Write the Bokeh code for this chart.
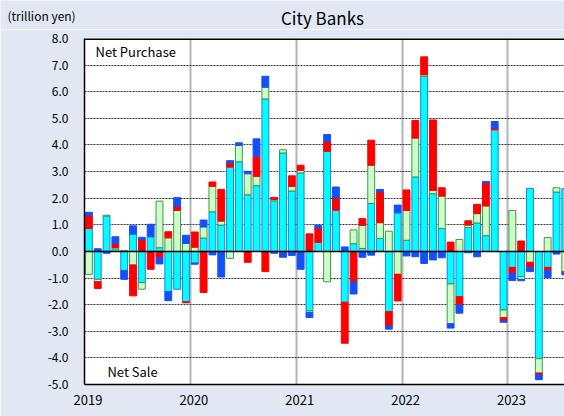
import numpy as np
from bokeh.plotting import figure
from bokeh.layouts import column
from bokeh.models import (ColumnDataSource, FixedTicker, NumeralTickFormatter,
                          Span, Label)
from bokeh.embed import file_html
from bokeh.resources import INLINE

# ---- data (trillion yen), monthly from Jan 2019 ----
years = ["2019", "2020", "2021", "2022", "2023"]

cyan_vals = [0.86, -1.05, 1.33, 0.10, -0.72, 0.65, -1.17, 0.55, 0.14, -1.51, -1.42, -1.89,
             -0.44, 0.50, 1.49, 0.99, 3.17, 3.37, 2.13, 2.47, 5.73, 1.90, 3.70, 2.27,
             2.95, -2.23, 0.34, 3.76, 1.55, -1.91, 0.29, 0.11, 1.80, 0.49, -2.26, 1.45,
             0.42, 2.80, 6.58, 2.17, 0.86, -1.22, -1.70, 0.90, 1.07, 0.59, 4.57, -2.20,
             -0.60, -0.95, 2.37, -4.03, -0.60, 2.23, 2.36]
green_vals = [-0.86, -0.09, 0.03, 0.05, 0.03, -0.51, -0.25, 0.00, 1.75, 0.51, 1.54, 0.30,
              0.16, 0.42, 0.96, 0.15, -0.26, 0.61, 0.79, 0.35, 0.44, 0.05, 0.12, 0.17,
              0.10, -0.06, 0.00, -1.14, 0.00, 0.00, 0.52, 0.87, 1.44, 0.59, 0.76, -0.86,
              1.12, 1.46, 0.06, 0.12, 1.22, -1.50, 0.45, 0.09, 0.35, 1.12, 0.00, -0.29,
              1.54, -0.10, -0.41, -0.54, 0.52, 0.16, -0.76]
red_vals = [0.50, -0.25, 0.00, 0.15, 0.00, -1.16, 0.45, -0.67, -0.24, 0.23, 0.16, -0.04,
            0.57, -1.54, 0.16, 1.19, 0.16, 0.00, -0.41, 0.75, -0.76, 0.08, -0.05, 0.40,
            0.19, 0.66, 0.54, 0.37, 0.46, -1.54, -1.15, 0.25, 0.94, 1.16, -0.54, -1.00,
            0.77, 0.66, 0.67, 2.65, 0.31, 0.35, -0.31, 0.16, 0.35, 0.86, 0.07, -0.12,
            -0.22, 0.39, -0.20, -0.06, -0.12, 0.00, -0.02]
blue_vals = [0.11, 0.10, -0.07, 0.25, -0.33, 0.31, 0.08, 0.47, -0.23, -0.34, 0.32, 0.31,
             -0.04, 0.26, -0.13, -0.96, 0.08, 0.10, 0.09, 0.66, 0.41, -0.07, -0.17, -0.15,
             -0.67, -0.19, 0.10, 0.26, 0.41, 0.17, -0.45, -0.22, -0.14, 0.09, -0.12, 0.29,
             -0.17, -0.20, -0.45, -0.32, -0.24, -0.16, -0.31, -0.05, -0.20, 0.06, 0.24, -0.05,
             -0.27, -0.05, -0.15, -0.19, -0.26, -0.10, -0.10]

y_ticks = [-5, -4, -3, -2, -1, 0, 1, 2, 3, 4, 5, 6, 7, 8]

FONT = "Noto Sans CJK JP"
BG = "#e1e8f4"

# ---- header strip with title and unit ----
HEAD_H = 29
head = figure(width=564, height=HEAD_H, x_range=(0, 564), y_range=(0, HEAD_H),
              output_backend="svg", toolbar_location=None,
              x_axis_location=None, y_axis_location=None,
              min_border_left=0, min_border_right=0, min_border_top=0, min_border_bottom=0)
head.frame_align = False
head.xgrid.visible = False
head.ygrid.visible = False
head.outline_line_color = None
head.background_fill_color = BG
head.border_fill_color = BG
head.add_layout(Label(x=322, y=HEAD_H - 17, text="City Banks", text_align="center",
                      text_baseline="middle", text_font=FONT, text_font_size="17px",
                      text_color="black"))
head.add_layout(Label(x=7, y=HEAD_H - 15, text="(trillion yen)", text_align="left",
                      text_baseline="middle", text_font=FONT, text_font_size="12px",
                      text_color="black"))

# ---- main chart ----
n = len(cyan_vals)
x = np.arange(n) + 0.5

p = figure(width=564, height=416 - HEAD_H, x_range=(0, 54.41), y_range=(-5, 8),
           output_backend="svg", toolbar_location=None,
           min_border_left=84, min_border_right=0, min_border_top=38 - HEAD_H,
           min_border_bottom=32)
p.frame_align = False
p.background_fill_color = "white"
p.border_fill_color = BG
p.outline_line_color = None

p.ygrid.ticker = FixedTicker(ticks=y_ticks)
p.ygrid.grid_line_color = "#333333"
p.ygrid.grid_line_dash = "2 1"
p.ygrid.grid_line_width = 1
p.xgrid.ticker = FixedTicker(ticks=[12 * i for i in range(len(years))])
p.xgrid.grid_line_color = "#b4b4b4"
p.xgrid.grid_line_width = 2

series = [
    (cyan_vals, "#00ffff", "#2b7de0"),
    (green_vals, "#ccffcc", "#3c9c3c"),
    (red_vals, "#ff0000", "#ff0000"),
    (blue_vals, "#1450fa", "#1450fa"),
]
pos_base = np.zeros(n)
neg_base = np.zeros(n)
for vals, fill, line in series:
    v = np.array(vals, dtype=float)
    bottom = np.where(v >= 0, pos_base, neg_base)
    top = bottom + v
    pos_base = np.where(v >= 0, top, pos_base)
    neg_base = np.where(v < 0, top, neg_base)
    m = v != 0
    src = ColumnDataSource(dict(x=x[m], bottom=bottom[m], top=top[m]))
    p.vbar(x="x", bottom="bottom", top="top", width=0.78, source=src,
           fill_color=fill, line_color=line, line_width=1)

p.add_layout(Span(location=0, dimension="width", line_color="black", line_width=1.5))
p.add_layout(Span(location=8, dimension="width", line_color="black", line_width=3))

yax = p.yaxis[0]
yax.ticker = FixedTicker(ticks=y_ticks)
yax.formatter = NumeralTickFormatter(format="0.0")
yax.major_tick_line_color = None
yax.minor_tick_line_color = None
yax.major_tick_out = 0
yax.minor_tick_out = 0
yax.major_label_standoff = 16
yax.major_label_text_font = FONT
yax.major_label_text_font_size = "12px"
yax.major_label_text_color = "black"
yax.axis_line_color = "black"
yax.axis_line_width = 1.5

xax = p.xaxis[0]
tick_pos = [12 * i + 0.4 for i in range(len(years))]
xax.ticker = FixedTicker(ticks=tick_pos)
xax.major_label_overrides = {t: y for t, y in zip(tick_pos, years)}
xax.major_tick_line_color = None
xax.minor_tick_line_color = None
xax.major_tick_out = 0
xax.minor_tick_out = 0
xax.major_label_standoff = 10
xax.major_label_text_font = FONT
xax.major_label_text_font_size = "13px"
xax.major_label_text_color = "black"
xax.axis_line_color = "black"
xax.axis_line_width = 1.5

p.add_layout(Label(x=1.25, y=7.51, text="Net Purchase", text_align="left", text_baseline="middle",
                   text_font=FONT, text_font_size="13px", text_color="black"))
p.add_layout(Label(x=2.6, y=-4.52, text="Net Sale", text_align="left", text_baseline="middle",
                   text_font=FONT, text_font_size="13px", text_color="black"))

layout = column(head, p, spacing=0)
html = file_html(layout, INLINE)
html = html.replace("<body>", '<body style="background-color:%s;">' % BG, 1)
open("out.html", "w").write(html)
